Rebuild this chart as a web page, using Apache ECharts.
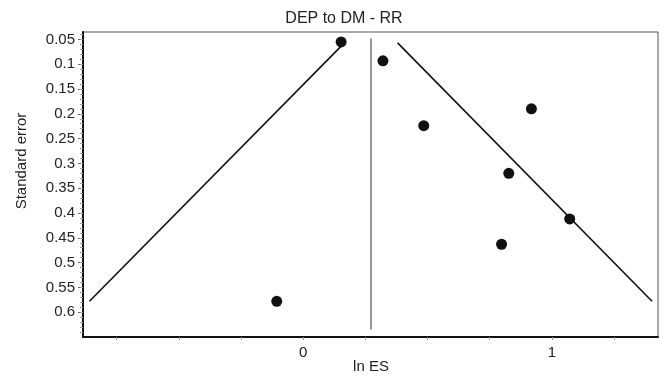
<!DOCTYPE html>
<html>
<head>
<meta charset="utf-8">
<script src="https://cdn.jsdelivr.net/npm/echarts@6/dist/echarts.min.js"></script>
<style>
html,body{margin:0;padding:0;background:#fff;}
#c{width:665px;height:378px;}
</style>
</head>
<body>
<div id="c"></div>
<script>
// ---- data ----
var titleText = 'DEP to DM - RR';
var xName = 'ln ES';
var yName = 'Standard error';
// study points: [ln ES, standard error]
var studyLnES = [0.153, 0.321, 0.485, 0.918, 0.827, 1.072, 0.798, -0.106];
var studySE   = [0.055, 0.093, 0.224, 0.190, 0.320, 0.412, 0.463, 0.578];
// pooled estimate line
var pooledLnES = 0.273;
var pooledSE   = [0.048, 0.635];
// pseudo 95% confidence limits (end points)
var leftLimitLnES  = [0.166, -0.859];
var leftLimitSE    = [0.057, 0.578];
var rightLimitLnES = [0.380, 1.403];
var rightLimitSE   = [0.057, 0.578];
// axes
var xRange = [-0.885, 1.427];
var yRange = [0.035, 0.65];
var xTickLabels = [0, 1];
var xTicks = [-0.75, -0.5, -0.25, 0, 0.25, 0.5, 0.75, 1, 1.25];
var yTickLabels = [0.05, 0.1, 0.15, 0.2, 0.25, 0.3, 0.35, 0.4, 0.45, 0.5, 0.55, 0.6];
var yMinorTicks = [];
for (var i = 4; i <= 64; i++) { yMinorTicks.push(i / 100); }

var font = 'Liberation Sans, Arial, sans-serif';
var pts = studyLnES.map(function (v, k) { return [v, studySE[k]]; });
var pooled = pooledSE.map(function (s) { return [pooledLnES, s]; });
var leftL = leftLimitLnES.map(function (v, k) { return [v, leftLimitSE[k]]; });
var rightL = rightLimitLnES.map(function (v, k) { return [v, rightLimitSE[k]]; });

var chart = echarts.init(document.getElementById('c'), null, {renderer: 'canvas'});
chart.setOption({
  animation: false,
  backgroundColor: '#fff',
  grid: {left: 83, right: 7, top: 32, bottom: 41, show: true, borderColor: '#555', borderWidth: 1},
  graphic: [
    {type: 'text', style: {text: titleText, font: '16px ' + font, fill: '#222', x: 344, y: 19, align: 'center', verticalAlign: 'middle'}},
    {type: 'text', style: {text: xName, font: '15px ' + font, fill: '#222', x: 371, y: 367, align: 'center', verticalAlign: 'middle'}},
    {type: 'text', rotation: Math.PI / 2, x: 22, y: 161, style: {text: yName, font: '15px ' + font, fill: '#222', x: 0, y: 0, align: 'center', verticalAlign: 'middle'}}
  ],
  xAxis: {
    type: 'value', min: xRange[0], max: xRange[1], position: 'bottom',
    splitLine: {show: false},
    axisLine: {show: true, onZero: false, lineStyle: {color: '#111', width: 2}},
    axisTick: {show: true, customValues: xTicks, length: 3, lineStyle: {color: '#999', width: 1}},
    axisLabel: {show: true, customValues: xTickLabels, color: '#222', fontSize: 15, fontFamily: font, margin: 8}
  },
  yAxis: [{
    type: 'value', inverse: true, min: yRange[0], max: yRange[1], position: 'left',
    splitLine: {show: false},
    axisLine: {show: true, onZero: false, lineStyle: {color: '#111', width: 2}},
    axisTick: {show: true, customValues: yTickLabels, length: 5, lineStyle: {color: '#666', width: 1}},
    axisLabel: {show: true, customValues: yTickLabels, color: '#222', fontSize: 15, fontFamily: font, margin: 8,
      formatter: function (v) { return String(v); }}
  }, {
    type: 'value', inverse: true, min: yRange[0], max: yRange[1], position: 'left',
    splitLine: {show: false},
    axisLine: {show: false, onZero: false},
    axisTick: {show: true, customValues: yMinorTicks, length: 3, lineStyle: {color: '#999', width: 1}},
    axisLabel: {show: false}
  }],
  series: [
    {type: 'line', data: pooled, symbol: 'none', lineStyle: {color: '#333', width: 1}, z: 2},
    {type: 'line', data: leftL, symbol: 'none', lineStyle: {color: '#111', width: 1.6}, z: 2},
    {type: 'line', data: rightL, symbol: 'none', lineStyle: {color: '#111', width: 1.6}, z: 2},
    {type: 'scatter', data: pts, symbol: 'circle', symbolSize: 11, itemStyle: {color: '#111', opacity: 1}, z: 3}
  ]
});
</script>
</body>
</html>
